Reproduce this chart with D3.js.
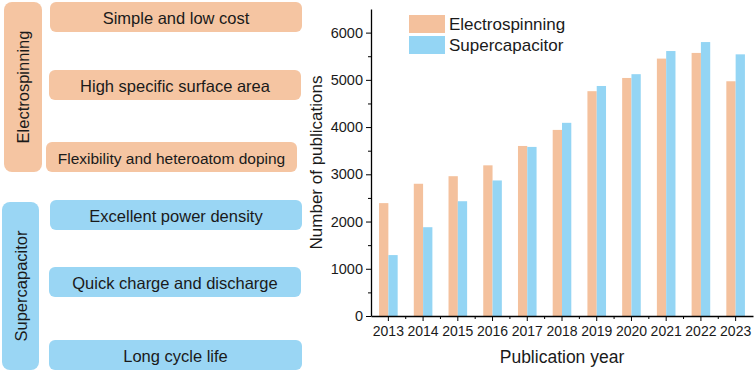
<!DOCTYPE html>
<html>
<head>
<meta charset="utf-8">
<script src="https://cdn.jsdelivr.net/npm/d3@7"></script>
<style>
  body { margin: 0; background: #fff; }
  svg text { font-family: "Liberation Sans", Arial, sans-serif; fill: #1a1a1a; }
</style>
</head>
<body>
<svg id="fig" width="756" height="373"></svg>
<script>
// data
var years = ["2013","2014","2015","2016","2017","2018","2019","2020","2021","2022","2023"];
var electrospinning = [2390, 2800, 2960, 3190, 3600, 3940, 4760, 5040, 5450, 5570, 4970];
var supercapacitor  = [1290, 1880, 2430, 2870, 3580, 4090, 4870, 5120, 5610, 5800, 5540];
var seriesNames = ["Electrospinning", "Supercapacitor"];
var yTicks = [0, 1000, 2000, 3000, 4000, 5000, 6000];

var elecFeatures = ["Simple and low cost", "High specific surface area", "Flexibility and heteroatom doping"];
var superFeatures = ["Excellent power density", "Quick charge and discharge", "Long cycle life"];

var orange = "#f4c19d", blue = "#94d5f4";
var boxOrange = "#f5c5a2", boxBlue = "#9ad6f4";

var svg = d3.select("#fig");

// left panel: property boxes
var panel = svg.append("g");
function groupBlock(label, items, fill, side, rows) {
  panel.append("rect")
    .attr("x", side.x).attr("y", side.y).attr("width", side.w).attr("height", side.h)
    .attr("rx", 8).attr("fill", fill);
  panel.append("text")
    .attr("transform", "translate(" + (side.x + side.w / 2 + 6) + "," + (side.y + side.h / 2) + ") rotate(-90)")
    .attr("text-anchor", "middle")
    .style("font-size", "16.5px")
    .text(label);
  items.forEach(function(t, i) {
    var r = rows[i];
    panel.append("rect")
      .attr("x", r.x).attr("y", r.y).attr("width", r.w).attr("height", 30)
      .attr("rx", 6).attr("fill", fill);
    panel.append("text")
      .attr("x", r.x + r.w / 2).attr("y", r.y + 21.5)
      .attr("text-anchor", "middle")
      .style("font-size", t.length > 30 ? "15.5px" : "16.5px")
      .text(t);
  });
}
groupBlock("Electrospinning", elecFeatures, boxOrange,
  {x: 4, y: 2, w: 38, h: 170},
  [{x: 50, y: 2, w: 252}, {x: 49, y: 70, w: 252}, {x: 46, y: 142, w: 251}]);
groupBlock("Supercapacitor", superFeatures, boxBlue,
  {x: 2, y: 202, w: 37, h: 168},
  [{x: 50, y: 200, w: 252}, {x: 49, y: 267, w: 252}, {x: 49, y: 340, w: 253}]);

// bar chart
var margin = {left: 371, right: 3, top: 9, bottom: 57};
var W = 756, H = 373;
var x = d3.scaleBand().domain(years).range([margin.left, W - margin.right]);
var y = d3.scaleLinear().domain([0, 6500]).range([H - margin.bottom, margin.top]);
var bw = 9.3;

var g = svg.append("g");
g.selectAll(".e").data(years).enter().append("rect")
  .attr("x", function(d) { return x(d) + x.bandwidth() / 2 - bw; })
  .attr("y", function(d, i) { return y(electrospinning[i]); })
  .attr("width", bw)
  .attr("height", function(d, i) { return y(0) - y(electrospinning[i]); })
  .attr("fill", orange);
g.selectAll(".s").data(years).enter().append("rect")
  .attr("x", function(d) { return x(d) + x.bandwidth() / 2; })
  .attr("y", function(d, i) { return y(supercapacitor[i]); })
  .attr("width", bw)
  .attr("height", function(d, i) { return y(0) - y(supercapacitor[i]); })
  .attr("fill", blue);

// y axis
var yAxis = g.append("g").attr("transform", "translate(" + margin.left + ",0)")
  .call(d3.axisLeft(y).tickValues(yTicks).tickFormat(d3.format("d")).tickSize(5).tickPadding(3).tickSizeOuter(0));
yAxis.selectAll("text").style("font-size", "14.5px");
g.append("g").attr("transform", "translate(" + margin.left + ",0)")
  .call(d3.axisLeft(y).tickValues(d3.range(500, 6500, 1000)).tickSize(3).tickFormat("").tickSizeOuter(0))
  .select(".domain").remove();

// x axis
var xAxis = g.append("g").attr("transform", "translate(0," + y(0) + ")")
  .call(d3.axisBottom(x).tickSize(5).tickPadding(5).tickSizeOuter(0));
xAxis.selectAll("text").style("font-size", "14px");
var xMinor = years.slice(1).map(function(d) { return x(d); });
g.selectAll(".xminor").data(xMinor).enter().append("line")
  .attr("x1", function(d) { return d; }).attr("x2", function(d) { return d; })
  .attr("y1", y(0)).attr("y2", y(0) + 3)
  .attr("stroke", "#000");
g.selectAll(".domain").attr("stroke-width", 1.3);

// axis titles
g.append("text")
  .attr("transform", "translate(322," + ((y(0) + margin.top) / 2) + ") rotate(-90)")
  .attr("text-anchor", "middle")
  .style("font-size", "17px")
  .text("Number of publications");
g.append("text")
  .attr("x", (margin.left + W - margin.right) / 2).attr("y", 363)
  .attr("text-anchor", "middle")
  .style("font-size", "17.5px")
  .text("Publication year");

// legend
var leg = g.append("g").attr("transform", "translate(409,15)");
[orange, blue].forEach(function(c, i) {
  leg.append("rect").attr("x", 0).attr("y", i * 21).attr("width", 36).attr("height", 18).attr("fill", c);
  leg.append("text").attr("x", 40).attr("y", i * 21 + 15).style("font-size", "17px").text(seriesNames[i]);
});
</script>
</body>
</html>
